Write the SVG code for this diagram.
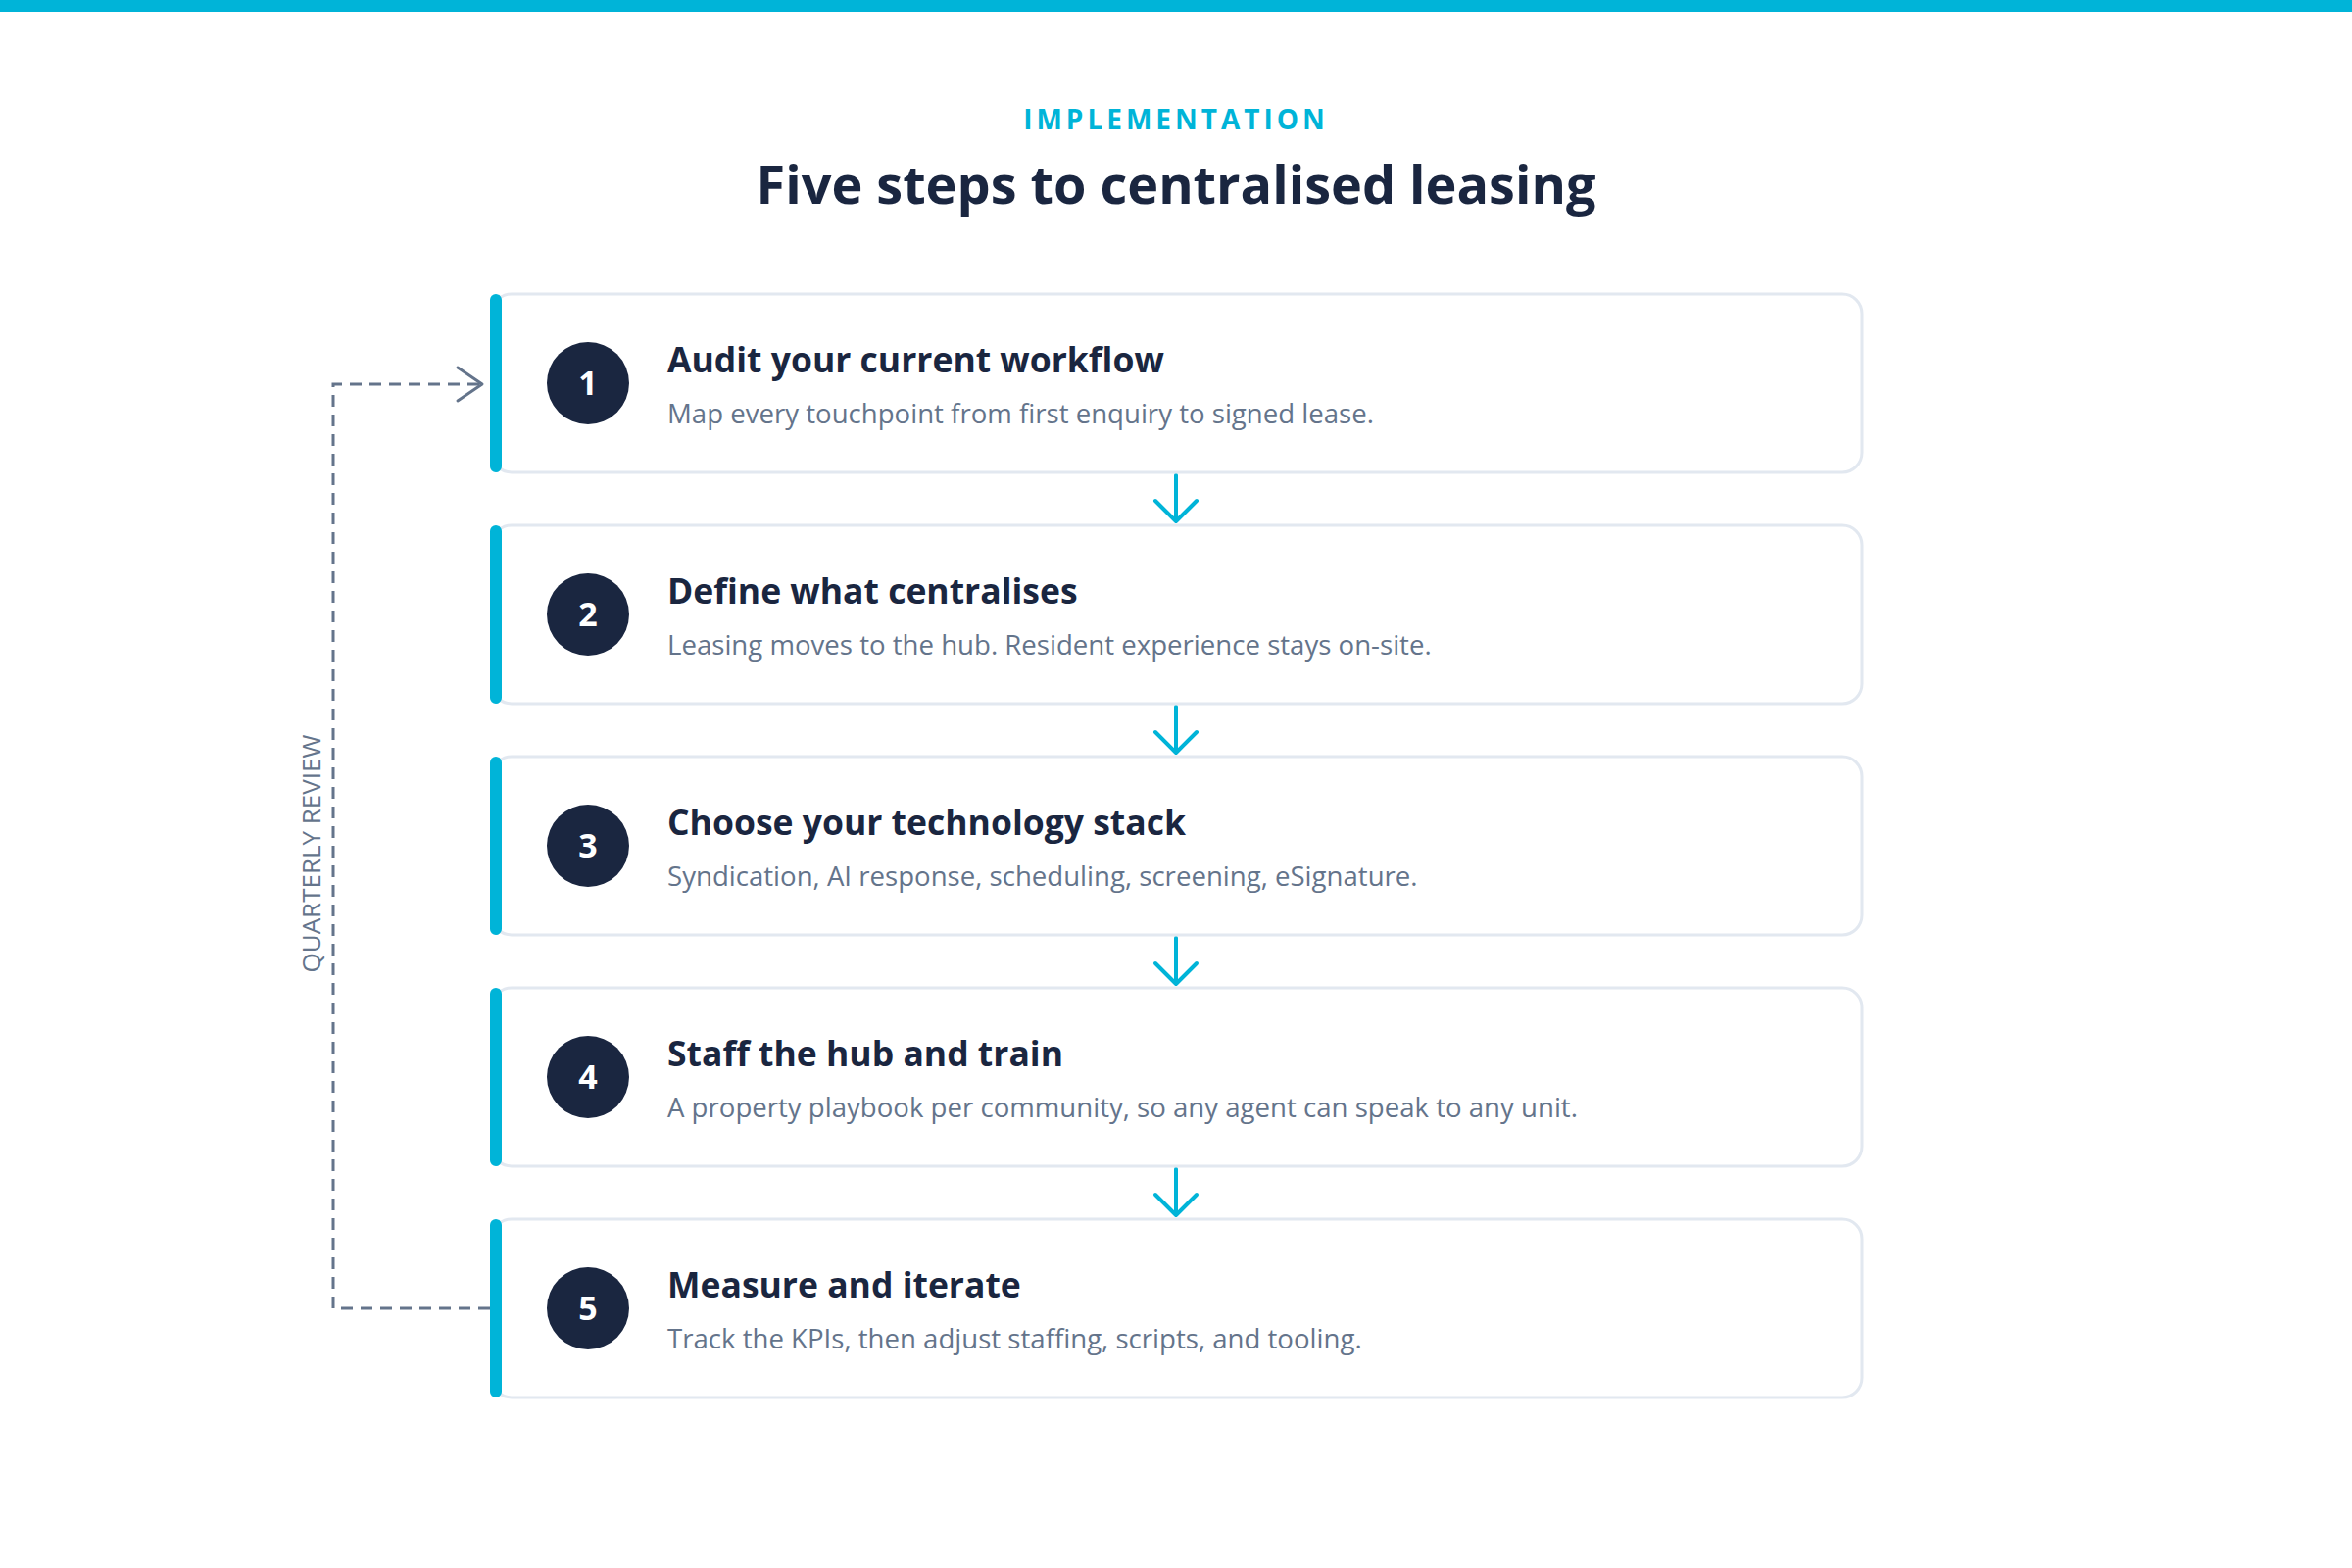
<svg xmlns="http://www.w3.org/2000/svg" width="2400" height="1600" viewBox="0 0 2400 1600">
<defs>
<style>
.card{fill:#ffffff;stroke:#e2e8f0;stroke-width:3}
.bar{fill:#00b4d8}
.num-bg{fill:#1a2640}
.num{font-family:"Open Sans","Noto Sans","Liberation Sans",sans-serif;font-weight:700;font-size:34px;fill:#ffffff;text-anchor:middle}
.title{font-family:"Open Sans","Noto Sans","Liberation Sans",sans-serif;font-weight:700;font-size:35.5px;fill:#1a2640}
.desc{font-family:"Open Sans","Noto Sans","Liberation Sans",sans-serif;font-size:27.6px;fill:#64748b}
.flow{fill:none;stroke:#00b4d8;stroke-width:4;stroke-linecap:round;stroke-linejoin:round}
.loop{fill:none;stroke:#64748b;stroke-width:3;stroke-dasharray:12 8}
</style>
</defs>
<rect x="0" y="0" width="2400" height="1600" fill="#ffffff"/>
<rect x="0" y="0" width="2400" height="12" fill="#00b4d8"/>
<g id="header">
<text x="1200" y="132" text-anchor="middle" font-family="Open Sans, Noto Sans, Liberation Sans, sans-serif" font-weight="700" font-size="28" letter-spacing="4" fill="#00b4d8">IMPLEMENTATION</text>
<text x="1200" y="208" text-anchor="middle" font-family="Open Sans, Noto Sans, Liberation Sans, sans-serif" font-weight="700" font-size="54" fill="#1a2640">Five steps to centralised leasing</text>
</g>
<g id="connectors">
<path class="flow" d="M1200 485 V532 M1179 511 L1200 532 L1221 511"/>
<path class="flow" d="M1200 721 V768 M1179 747 L1200 768 L1221 747"/>
<path class="flow" d="M1200 957 V1004 M1179 983 L1200 1004 L1221 983"/>
<path class="flow" d="M1200 1193 V1240 M1179 1219 L1200 1240 L1221 1219"/>
<path class="loop" d="M500 1335 H340 V392 H490"/>
<path d="M467 375 L492 392 L467 409" fill="none" stroke="#64748b" stroke-width="3" stroke-linecap="round" stroke-linejoin="round"/>
<text transform="translate(327 871) rotate(-90)" text-anchor="middle" font-family="Open Sans, Noto Sans, Liberation Sans, sans-serif" font-size="26" fill="#64748b">QUARTERLY REVIEW</text>
</g>
<g id="step1">
<rect class="card" x="502" y="300" width="1398" height="182" rx="20"/>
<rect class="bar" x="500" y="300" width="12" height="182" rx="6"/>
<circle class="num-bg" cx="600" cy="391" r="42"/>
<text class="num" x="600" y="403">1</text>
<text class="title" x="681" y="380">Audit your current workflow</text>
<text class="desc" x="681" y="432">Map every touchpoint from first enquiry to signed lease.</text>
</g>
<g id="step2">
<rect class="card" x="502" y="536" width="1398" height="182" rx="20"/>
<rect class="bar" x="500" y="536" width="12" height="182" rx="6"/>
<circle class="num-bg" cx="600" cy="627" r="42"/>
<text class="num" x="600" y="639">2</text>
<text class="title" x="681" y="616">Define what centralises</text>
<text class="desc" x="681" y="668">Leasing moves to the hub. Resident experience stays on-site.</text>
</g>
<g id="step3">
<rect class="card" x="502" y="772" width="1398" height="182" rx="20"/>
<rect class="bar" x="500" y="772" width="12" height="182" rx="6"/>
<circle class="num-bg" cx="600" cy="863" r="42"/>
<text class="num" x="600" y="875">3</text>
<text class="title" x="681" y="852">Choose your technology stack</text>
<text class="desc" x="681" y="904">Syndication, AI response, scheduling, screening, eSignature.</text>
</g>
<g id="step4">
<rect class="card" x="502" y="1008" width="1398" height="182" rx="20"/>
<rect class="bar" x="500" y="1008" width="12" height="182" rx="6"/>
<circle class="num-bg" cx="600" cy="1099" r="42"/>
<text class="num" x="600" y="1111">4</text>
<text class="title" x="681" y="1088">Staff the hub and train</text>
<text class="desc" x="681" y="1140">A property playbook per community, so any agent can speak to any unit.</text>
</g>
<g id="step5">
<rect class="card" x="502" y="1244" width="1398" height="182" rx="20"/>
<rect class="bar" x="500" y="1244" width="12" height="182" rx="6"/>
<circle class="num-bg" cx="600" cy="1335" r="42"/>
<text class="num" x="600" y="1347">5</text>
<text class="title" x="681" y="1324">Measure and iterate</text>
<text class="desc" x="681" y="1376">Track the KPIs, then adjust staffing, scripts, and tooling.</text>
</g>
</svg>
